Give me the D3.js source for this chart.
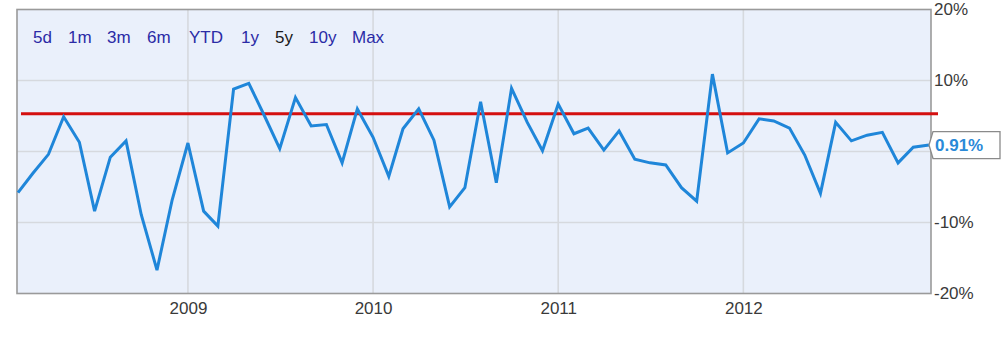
<!DOCTYPE html>
<html>
<head>
<meta charset="utf-8">
<script src="https://cdn.jsdelivr.net/npm/d3@7"></script>
<style>
  body { margin:0; background:#fff; }
  svg { display:block; font-family:"Liberation Sans", Arial, sans-serif; }
</style>
</head>
<body>
<script>
// monthly returns, Feb 2008 .. Jan 2013 (%)
var startMonth = new Date(2008, 1, 1);
var returns = [-5.8,-3.1,-0.4,4.9,1.3,-8.4,-0.8,1.5,-8.9,-16.7,
               -6.8,1.2,-8.4,-10.5,8.8,9.6,5.0,0.4,7.6,3.6,
               3.8,-1.6,6.0,2.0,-3.5,3.2,6.0,1.6,-7.8,-5.1,
               7.0,-4.4,8.9,4.1,0.1,6.7,2.5,3.3,0.2,2.9,
               -1.1,-1.6,-1.9,-5.1,-7.0,10.9,-0.2,1.2,4.6,4.3,
               3.3,-0.5,-5.9,4.1,1.5,2.3,2.7,-1.6,0.6,0.91];
var threshold = 5.3;
var yTicks = [-20,-10,0,10,20];
var yLabels = [-20,-10,10,20];   // 0% sits under the value flag
var yearTicks = [2009,2010,2011,2012];
var ranges = ["5d","1m","3m","6m","YTD","1y","5y","10y","Max"];
var selectedRange = "5y";
var lastLabel = "0.91%";

var W = 1006, H = 337;
var pl = 17, pr = 931, pt = 9.5, pb = 293.5;

var svg = d3.select("body").append("svg")
    .attr("width", W).attr("height", H);

var dates = returns.map(function(v, i){ return d3.timeMonth.offset(startMonth, i); });

var x = d3.scaleTime()
    .domain([dates[0], dates[dates.length-1]])
    .range([18, 929]);
var y = d3.scaleLinear().domain([-20, 20]).range([pb, pt]);

// plot background
svg.append("rect")
    .attr("x", pl).attr("y", pt)
    .attr("width", pr-pl).attr("height", pb-pt)
    .attr("fill", "#eaf0fb");

// grid
svg.append("g").selectAll("line").data(yTicks.filter(function(d){ return d>-20 && d<20; }))
  .enter().append("line")
    .attr("x1", pl).attr("x2", pr)
    .attr("y1", function(d){ return y(d); }).attr("y2", function(d){ return y(d); })
    .attr("stroke", "#d6d9de").attr("stroke-width", 1.6);

svg.append("g").selectAll("line").data(yearTicks)
  .enter().append("line")
    .attr("x1", function(d){ return x(new Date(d,0,1)); })
    .attr("x2", function(d){ return x(new Date(d,0,1)); })
    .attr("y1", pt).attr("y2", pb)
    .attr("stroke", "#d6d9de").attr("stroke-width", 1.6);

// frame
svg.append("rect")
    .attr("x", pl).attr("y", pt)
    .attr("width", pr-pl).attr("height", pb-pt)
    .attr("fill", "none").attr("stroke", "#9a9a9a").attr("stroke-width", 1.6);

// right axis
var yAxis = d3.axisRight(y).tickValues(yLabels)
    .tickFormat(function(d){ return d + "%"; }).tickSize(0).tickPadding(3);
var ya = svg.append("g").attr("transform", "translate(" + pr + ",0)").call(yAxis);
ya.select(".domain").remove();
ya.selectAll("text").attr("font-size", 17).attr("fill", "#3a3a3a")
    .attr("font-family", "Liberation Sans, Arial, sans-serif");

// bottom axis
var xAxis = d3.axisBottom(x)
    .tickValues(yearTicks.map(function(d){ return new Date(d,0,1); }))
    .tickFormat(d3.timeFormat("%Y")).tickSize(0).tickPadding(8);
var xa = svg.append("g").attr("transform", "translate(0," + pb + ")").call(xAxis);
xa.select(".domain").remove();
xa.selectAll("text").attr("font-size", 17).attr("fill", "#3a3a3a")
    .attr("font-family", "Liberation Sans, Arial, sans-serif");

// threshold line
svg.append("line")
    .attr("x1", 21).attr("x2", 938)
    .attr("y1", y(threshold)).attr("y2", y(threshold))
    .attr("stroke", "#d40f0f").attr("stroke-width", 3);

// series
var line = d3.line()
    .x(function(d, i){ return x(dates[i]); })
    .y(function(d){ return y(d); });
svg.append("path").datum(returns)
    .attr("d", line)
    .attr("fill", "none")
    .attr("stroke", "#1f86d9")
    .attr("stroke-width", 3)
    .attr("stroke-linejoin", "miter");

// last value flag
var ly = y(returns[returns.length-1]);
var bx = 932, bw = 68, bh = 27;
svg.append("path")
    .attr("d", "M" + (bx-3) + "," + ly + "L" + (bx+1) + "," + (ly-bh/2) + "H" + (bx+bw) +
               "V" + (ly+bh/2) + "H" + (bx+1) + "Z")
    .attr("fill", "#fff").attr("stroke", "#8a8a8a").attr("stroke-width", 1.3);
svg.append("text")
    .attr("x", bx+3).attr("y", ly+6)
    .attr("font-size", 17).attr("font-weight", "bold")
    .attr("fill", "#2a8ad8")
    .text(lastLabel);

// range selector
var rangeX = [33, 68, 107, 147, 189, 241, 275, 309, 352];
svg.append("g").selectAll("text").data(ranges)
  .enter().append("text")
    .attr("x", function(d, i){ return rangeX[i]; })
    .attr("y", 43)
    .attr("font-size", 17)
    .attr("fill", function(d){ return d === selectedRange ? "#1a1a1a" : "#2b2ba6"; })
    .text(function(d){ return d; });
</script>
</body>
</html>
